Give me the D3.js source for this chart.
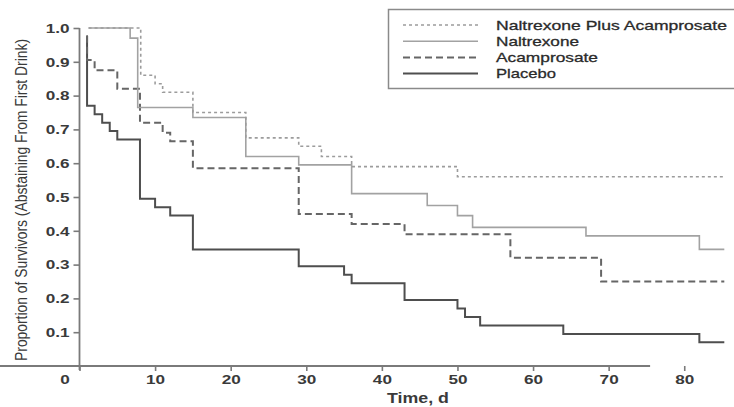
<!DOCTYPE html>
<html>
<head>
<meta charset="utf-8">
<script src="https://cdn.jsdelivr.net/npm/d3@7"></script>
<style>
body { margin: 0; background: #fff; }
svg text { font-family: "Liberation Sans", Arial, sans-serif; }
</style>
</head>
<body>
<div id="chart"></div>
<script>
// Kaplan-Meier steps: first entry is where the curve starts
var seriesNames = ["Naltrexone Plus Acamprosate", "Naltrexone", "Acamprosate", "Placebo"];

var comboTimes = [1.2, 8.1, 10, 11, 15, 22, 29, 32, 36, 50];
var comboValues = [1.0, 0.86, 0.835, 0.81, 0.75, 0.675, 0.65, 0.62, 0.59, 0.56];

var naltTimes = [1.2, 6.7, 7.7, 15, 22, 29, 36, 46, 50, 52, 67, 82];
var naltValues = [1.0, 0.97, 0.765, 0.735, 0.62, 0.595, 0.51, 0.475, 0.445, 0.41, 0.385, 0.345];

var acampTimes = [0.9, 1, 2, 5, 8, 11, 12, 15, 29, 36, 43, 57, 69];
var acampValues = [0.975, 0.905, 0.875, 0.82, 0.72, 0.69, 0.665, 0.585, 0.45, 0.42, 0.39, 0.32, 0.25];

var placeboTimes = [0.9, 1, 2, 3, 4, 5, 8, 10, 12, 15, 29, 35, 36, 43, 50, 51, 53, 64, 82];
var placeboValues = [0.975, 0.77, 0.745, 0.72, 0.695, 0.67, 0.495, 0.47, 0.445, 0.345, 0.295, 0.27, 0.245, 0.195, 0.17, 0.145, 0.12, 0.095, 0.07];

var followUpEnd = 85.3;
var xTicks = [0, 10, 20, 30, 40, 50, 60, 70, 80];
var yTicks = [0.1, 0.2, 0.3, 0.4, 0.5, 0.6, 0.7, 0.8, 0.9, 1.0];

var width = 734, height = 407;
var stretch = 1.27; // the source image is widened, so text is too
var legendTextWidths = [231, 83, 102, 60];

var svg = d3.select("#chart").append("svg")
    .attr("width", width)
    .attr("height", height);

var x = d3.scaleLinear().domain([0, 86]).range([79.5, 729.6]);
var y = d3.scaleLinear().domain([0, 1]).range([366, 28]);

function widen(sel, factor) {
    sel.each(function () {
        var w = this.getComputedTextLength();
        d3.select(this).attr("textLength", w * factor).attr("lengthAdjust", "spacingAndGlyphs");
    });
}

// axes
var xAxis = svg.append("g")
    .attr("transform", "translate(0," + y(0) + ")")
    .call(d3.axisBottom(x).tickValues(xTicks).tickSize(5).tickSizeOuter(0).tickPadding(3));
var yAxis = svg.append("g")
    .attr("transform", "translate(" + x(0) + ",0)")
    .call(d3.axisLeft(y).tickValues(yTicks).tickFormat(d3.format(".1f")).tickSize(6).tickSizeOuter(0).tickPadding(4));

[xAxis, yAxis].forEach(function (ax) {
    ax.select(".domain").attr("stroke", "#7a7a7a").attr("stroke-width", 1.8);
    ax.selectAll(".tick line").attr("stroke", "#7a7a7a").attr("stroke-width", 1.6);
    ax.selectAll(".tick text")
        .attr("fill", "#3a3a3a")
        .style("font-size", "13.5px")
        .style("font-weight", "bold");
    widen(ax.selectAll(".tick text"), stretch);
});
xAxis.selectAll(".tick text").filter(function (d) { return d === 0; }).attr("dx", -15);
yAxis.select(".domain").attr("d", "M0," + (y(0) + 4) + "V" + y(1));
xAxis.select(".domain").attr("d", "M-2,0H" + (x(86) - x(0)));

// axis titles
var xTitle = svg.append("text")
    .attr("x", 418).attr("y", 403)
    .attr("text-anchor", "middle")
    .attr("fill", "#3a3a3a")
    .style("font-size", "14px").style("font-weight", "bold")
    .text("Time, d");
widen(xTitle, stretch);

svg.append("text")
    .attr("transform", "translate(27,200) rotate(-90) scale(1,1.3)")
    .attr("text-anchor", "middle")
    .attr("fill", "#3a3a3a")
    .style("font-size", "13px")
    .attr("textLength", 322).attr("lengthAdjust", "spacingAndGlyphs")
    .text("Proportion of Survivors (Abstaining From First Drink)");

// curves
var series = [
    { name: seriesNames[0], times: comboTimes, values: comboValues, color: "#9c9c9c", width: 1.6, dash: "3,3" },
    { name: seriesNames[1], times: naltTimes, values: naltValues, color: "#a2a2a2", width: 1.6, dash: null },
    { name: seriesNames[2], times: acampTimes, values: acampValues, color: "#666", width: 2, dash: "7,4" },
    { name: seriesNames[3], times: placeboTimes, values: placeboValues, color: "#4e4e4e", width: 2, dash: null }
];

var line = d3.line()
    .x(function (d) { return x(d[0]); })
    .y(function (d) { return y(d[1]); })
    .curve(d3.curveStepAfter);

series.slice().reverse().forEach(function (s) {
    var pts = s.times.map(function (t, i) { return [t, s.values[i]]; });
    pts.push([followUpEnd, s.values[s.values.length - 1]]);
    svg.append("path")
        .datum(pts)
        .attr("d", line)
        .attr("fill", "none")
        .attr("stroke", s.color)
        .attr("stroke-width", s.width)
        .attr("stroke-dasharray", s.dash);
});

// legend
var legend = svg.append("g");
legend.append("rect")
    .attr("x", 388.5).attr("y", 9.5)
    .attr("width", 360).attr("height", 79)
    .attr("fill", "#fff")
    .attr("stroke", "#8a8a8a").attr("stroke-width", 1.5);

series.forEach(function (s, i) {
    var ly = 25 + i * 16.2;
    legend.append("line")
        .attr("x1", 403).attr("x2", 478)
        .attr("y1", ly).attr("y2", ly)
        .attr("stroke", s.color)
        .attr("stroke-width", s.width)
        .attr("stroke-dasharray", s.dash);
    legend.append("text")
        .attr("x", 496).attr("y", ly + 4.5)
        .attr("fill", "#2a2a2a")
        .attr("stroke", "#2a2a2a").attr("stroke-width", 0.3)
        .style("font-size", "13.5px")
        .attr("textLength", legendTextWidths[i]).attr("lengthAdjust", "spacingAndGlyphs")
        .text(s.name);
});
</script>
</body>
</html>
